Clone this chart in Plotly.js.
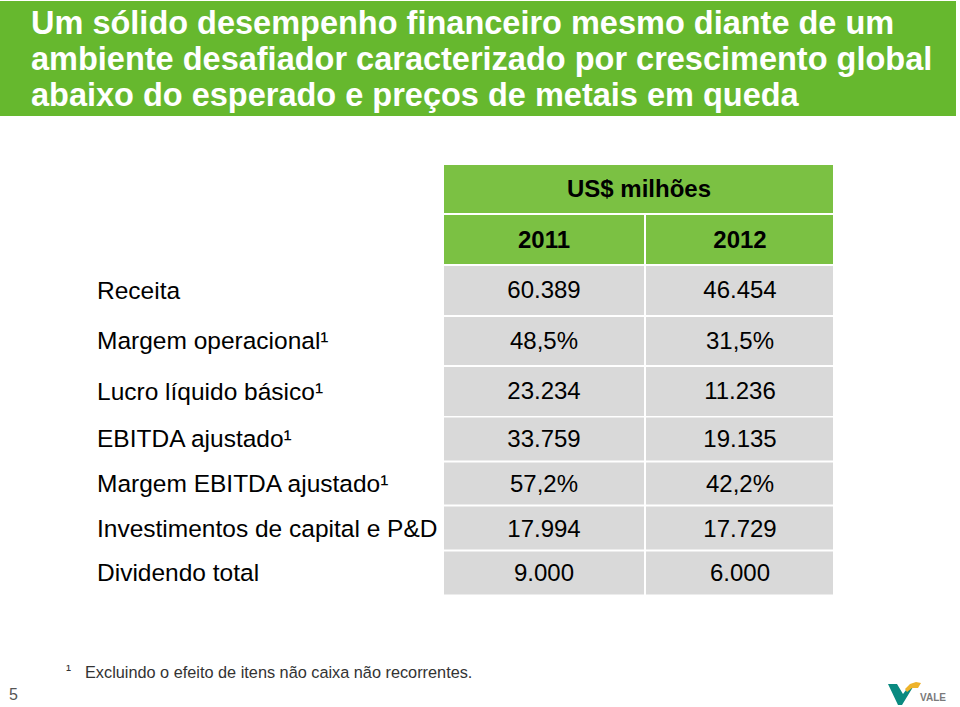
<!DOCTYPE html>
<html><head><meta charset="utf-8">
<script src="https://cdn.plot.ly/plotly-3.0.1.min.js"></script>
<style>html,body{margin:0;padding:0;background:#fff}</style></head>
<body>
<div id="chart" style="width:960px;height:707px"></div>
<script>
const titleLines = ["Um sólido desempenho financeiro mesmo diante de um",
                    "ambiente desafiador caracterizado por crescimento global",
                    "abaixo do esperado e preços de metais em queda"];
const unitLabel = "US$ milhões";
const years = ["2011", "2012"];
const metrics = ["Receita", "Margem operacional¹", "Lucro líquido básico¹", "EBITDA ajustado¹",
                 "Margem EBITDA ajustado¹", "Investimentos de capital e P&D", "Dividendo total"];
const values2011 = ["60.389", "48,5%", "23.234", "33.759", "57,2%", "17.994", "9.000"];
const values2012 = ["46.454", "31,5%", "11.236", "19.135", "42,2%", "17.729", "6.000"];
const footnoteMark = "¹";
const footnote = "Excluindo o efeito de itens não caixa não recorrentes.";
const pageNumber = "5";
const logoText = "VALE";

const W = 960, H = 707;
const px = x => x / W, py = y => 1 - y / H;
const FAM = "Liberation Sans, Arial, Helvetica, sans-serif";
const gray = "#d9d9d9", green = "#7bc143", band = "#66b82e";
const colW = [202, 189];                 // widths of the two value columns (layout)
const xEdges = [0, colW[0], colW[0] + colW[1]];
const split = 3;                         // rows 1-3 are taller than rows 4-7 in the original

function flat(c) { return [[0, c], [1, c]]; }
function block(rows, cellText, yaxis, color, bold) {
  return {
    type: "heatmap", xaxis: "x", yaxis: yaxis,
    x: cellText[0].length === 1 ? [xEdges[0], xEdges[2]] : xEdges,
    y: rows,
    z: cellText.map(r => r.map(() => 1)),
    zmin: 0, zmax: 1, colorscale: flat(color), showscale: false,
    text: cellText, texttemplate: "%{text}",
    textfont: {family: FAM, size: 24, color: "#000", weight: bold ? "bold" : "normal"},
    xgap: 2, ygap: 2, hoverinfo: "skip"
  };
}

const g1 = metrics.slice(0, split), g2 = metrics.slice(split);
const rowsOf = (from, to) => values2011.slice(from, to).map((v, i) => [v, values2012[from + i]]);

const data = [
  block(["unit"], [[unitLabel]], "y", green, true),
  block(["years"], [years], "y2", green, true),
  block(g1, rowsOf(0, split), "y3", gray, false),
  block(g2, rowsOf(split, metrics.length), "y4", gray, false)
];

const hid = {visible: false, fixedrange: true};
const yax = (top, bot) => Object.assign({}, hid, {anchor: "x", type: "category", autorange: "reversed",
                                               domain: [py(bot), py(top)]});

const annotations = titleLines.map((t, i) => ({
  text: "<b>" + t + "</b>", xref: "paper", yref: "paper", x: px(29), y: py(23 + 36 * i),
  xanchor: "left", yanchor: "middle", showarrow: false,
  font: {family: FAM, size: 32.5, color: "#ffffff"}
}));
const labelFont = {family: FAM, size: 24.5, color: "#000"};
g1.forEach(m => annotations.push({text: m, xref: "paper", yref: "y3", x: px(95), y: m,
  xanchor: "left", yanchor: "middle", showarrow: false, font: labelFont}));
g2.forEach(m => annotations.push({text: m, xref: "paper", yref: "y4", x: px(95), y: m,
  xanchor: "left", yanchor: "middle", showarrow: false, font: labelFont}));
annotations.push(
  {text: footnoteMark, xref: "paper", yref: "paper", x: px(64), y: py(669), xanchor: "left", yanchor: "middle",
   showarrow: false, font: {family: FAM, size: 15, color: "#333"}},
  {text: footnote, xref: "paper", yref: "paper", x: px(83), y: py(672), xanchor: "left", yanchor: "middle",
   showarrow: false, font: {family: FAM, size: 16.3, color: "#333"}},
  {text: pageNumber, xref: "paper", yref: "paper", x: px(7), y: py(694), xanchor: "left", yanchor: "middle",
   showarrow: false, font: {family: FAM, size: 16, color: "#555"}},
  {text: "<b>" + logoText + "</b>", xref: "paper", yref: "paper", x: px(918), y: py(697), xanchor: "left", yanchor: "middle",
   showarrow: false, font: {family: FAM, size: 10, color: "#7a7a7a"}}
);

function path(pts) {
  return "M" + pts.map(p => px(p[0]) + "," + py(p[1])).join(" L") + " Z";
}
const shapes = [
  {type: "rect", xref: "paper", yref: "paper", x0: 0, x1: px(956), y0: py(116), y1: py(1),
   fillcolor: band, line: {width: 0}, layer: "below"},
  {type: "path", xref: "paper", yref: "paper", fillcolor: "#0a8a80", line: {width: 0},
   path: path([[888,684],[897,684],[903,694],[909,686],[913,687],[902,705],[898,705]])},
  {type: "path", xref: "paper", yref: "paper", fillcolor: "#eeb32a", line: {width: 0},
   path: path([[905,689],[910,684],[916,682],[921,683],[918,688],[912,688],[907,692]])}
];

Plotly.newPlot("chart", data, {
  width: W, height: H, margin: {l: 0, r: 0, t: 0, b: 0},
  paper_bgcolor: "#ffffff", plot_bgcolor: "rgba(0,0,0,0)",
  showlegend: false, annotations: annotations, shapes: shapes,
  xaxis: Object.assign({}, hid, {domain: [px(443), px(834)], range: [xEdges[0], xEdges[2]]}),
  yaxis: yax(164, 214),
  yaxis2: yax(214, 265),
  yaxis3: yax(265, 416.5),
  yaxis4: yax(416.5, 595)
}, {displayModeBar: false, staticPlot: true});
</script>
</body></html>
